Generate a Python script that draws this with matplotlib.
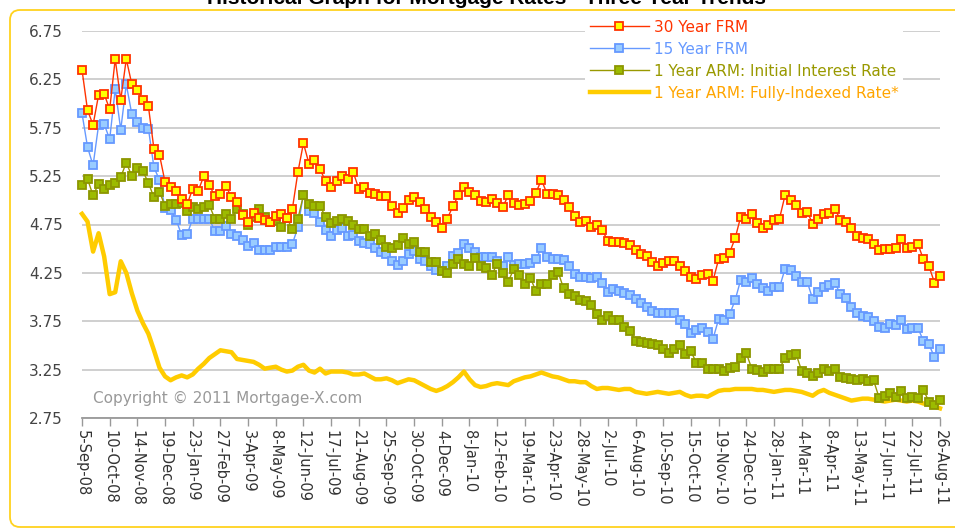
import matplotlib
matplotlib.use("Agg")
import matplotlib.pyplot as plt
import numpy as np
from matplotlib.patches import FancyBboxPatch

# weekly values, 5-Sep-08 .. 26-Aug-11 (156 weeks)
frm30 = [6.35, 5.93, 5.78, 6.09, 6.10, 5.94, 6.46, 6.04, 6.46, 6.20,
         6.14, 6.04, 5.97, 5.53, 5.47, 5.19, 5.14, 5.10, 5.01, 4.96,
         5.12, 5.10, 5.25, 5.16, 5.04, 5.07, 5.15, 5.03, 4.98, 4.85,
         4.78, 4.87, 4.82, 4.80, 4.78, 4.84, 4.86, 4.82, 4.91, 5.29,
         5.59, 5.38, 5.42, 5.32, 5.20, 5.14, 5.20, 5.25, 5.22, 5.29,
         5.12, 5.14, 5.08, 5.07, 5.04, 5.04, 4.94, 4.87, 4.92, 5.00,
         5.03, 4.98, 4.91, 4.83, 4.78, 4.71, 4.81, 4.94, 5.05, 5.14,
         5.09, 5.06, 4.99, 4.98, 5.01, 4.97, 4.93, 5.05, 4.97, 4.95,
         4.96, 4.99, 5.08, 5.21, 5.07, 5.07, 5.06, 5.00, 4.93, 4.84,
         4.78, 4.79, 4.72, 4.75, 4.69, 4.58, 4.57, 4.57, 4.56, 4.54,
         4.49, 4.44, 4.42, 4.36, 4.32, 4.35, 4.37, 4.37, 4.32, 4.27,
         4.21, 4.19, 4.23, 4.24, 4.17, 4.39, 4.40, 4.46, 4.61, 4.83,
         4.81, 4.86, 4.77, 4.71, 4.74, 4.80, 4.81, 5.05, 5.00, 4.95,
         4.87, 4.88, 4.76, 4.81, 4.86, 4.87, 4.91, 4.80, 4.78, 4.71,
         4.63, 4.61, 4.60, 4.55, 4.49, 4.50, 4.50, 4.51, 4.60, 4.51,
         4.52, 4.55, 4.39, 4.32, 4.15, 4.22]

frm15 = [5.90, 5.55, 5.36, 5.78, 5.79, 5.63, 6.15, 5.73, 6.20, 5.89,
         5.81, 5.75, 5.74, 5.34, 5.21, 4.92, 4.90, 4.80, 4.64, 4.65,
         4.81, 4.81, 4.81, 4.81, 4.68, 4.68, 4.73, 4.65, 4.63, 4.59,
         4.53, 4.56, 4.49, 4.49, 4.49, 4.52, 4.52, 4.52, 4.55, 4.72,
         5.06, 4.89, 4.87, 4.78, 4.69, 4.63, 4.69, 4.71, 4.63, 4.64,
         4.58, 4.56, 4.55, 4.51, 4.47, 4.44, 4.37, 4.33, 4.37, 4.45,
         4.48, 4.39, 4.37, 4.32, 4.28, 4.27, 4.32, 4.42, 4.46, 4.55,
         4.51, 4.47, 4.41, 4.41, 4.41, 4.37, 4.32, 4.41, 4.33, 4.34,
         4.34, 4.35, 4.39, 4.51, 4.41, 4.39, 4.39, 4.38, 4.32, 4.24,
         4.21, 4.21, 4.20, 4.21, 4.15, 4.05, 4.08, 4.06, 4.04, 4.02,
         3.98, 3.94, 3.90, 3.86, 3.84, 3.84, 3.84, 3.84, 3.76, 3.72,
         3.63, 3.66, 3.68, 3.64, 3.57, 3.77, 3.76, 3.82, 3.97, 4.18,
         4.16, 4.20, 4.14, 4.09, 4.06, 4.10, 4.10, 4.29, 4.28, 4.22,
         4.16, 4.16, 3.98, 4.05, 4.10, 4.12, 4.15, 4.03, 3.99, 3.90,
         3.84, 3.80, 3.79, 3.75, 3.69, 3.68, 3.72, 3.71, 3.76, 3.67,
         3.68, 3.68, 3.55, 3.51, 3.38, 3.46]

arm_init = [5.16, 5.22, 5.05, 5.17, 5.12, 5.16, 5.18, 5.24, 5.39, 5.25,
            5.33, 5.30, 5.18, 5.03, 5.09, 4.94, 4.96, 4.96, 4.97, 4.89,
            4.93, 4.91, 4.93, 4.95, 4.81, 4.81, 4.86, 4.81, 4.91, 4.86,
            4.75, 4.83, 4.91, 4.83, 4.78, 4.79, 4.72, 4.82, 4.70, 4.81,
            5.05, 4.96, 4.94, 4.94, 4.83, 4.77, 4.79, 4.81, 4.79, 4.74,
            4.70, 4.70, 4.63, 4.65, 4.59, 4.52, 4.51, 4.54, 4.61, 4.55,
            4.57, 4.47, 4.47, 4.36, 4.36, 4.27, 4.25, 4.34, 4.39, 4.34,
            4.32, 4.40, 4.32, 4.30, 4.23, 4.34, 4.25, 4.16, 4.29, 4.23,
            4.13, 4.20, 4.06, 4.14, 4.14, 4.23, 4.26, 4.09, 4.03, 4.01,
            3.97, 3.96, 3.92, 3.83, 3.76, 3.80, 3.76, 3.76, 3.69, 3.65,
            3.55, 3.54, 3.53, 3.52, 3.50, 3.46, 3.42, 3.46, 3.50, 3.41,
            3.44, 3.32, 3.32, 3.26, 3.26, 3.26, 3.24, 3.27, 3.28, 3.37,
            3.42, 3.26, 3.25, 3.23, 3.26, 3.26, 3.26, 3.37, 3.40, 3.41,
            3.24, 3.21, 3.18, 3.22, 3.26, 3.24, 3.26, 3.17, 3.16, 3.15,
            3.14, 3.15, 3.13, 3.14, 2.96, 2.98, 3.01, 2.97, 3.03, 2.96,
            2.97, 2.96, 3.04, 2.92, 2.88, 2.94]

arm_full = [4.86, 4.78, 4.47, 4.66, 4.42, 4.03, 4.05, 4.37, 4.25, 4.04,
            3.86, 3.73, 3.62, 3.45, 3.27, 3.18, 3.14, 3.17, 3.19, 3.17,
            3.20, 3.26, 3.31, 3.37, 3.41, 3.45, 3.44, 3.43, 3.36, 3.35,
            3.34, 3.33, 3.30, 3.26, 3.27, 3.28, 3.25, 3.23, 3.24, 3.28,
            3.30, 3.24, 3.22, 3.26, 3.21, 3.23, 3.23, 3.23, 3.22, 3.20,
            3.20, 3.21, 3.18, 3.15, 3.15, 3.16, 3.14, 3.11, 3.13, 3.15,
            3.14, 3.11, 3.08, 3.05, 3.03, 3.05, 3.08, 3.12, 3.17, 3.23,
            3.15, 3.09, 3.07, 3.08, 3.10, 3.11, 3.10, 3.09, 3.13, 3.15,
            3.17, 3.18, 3.20, 3.22, 3.20, 3.18, 3.17, 3.15, 3.13, 3.13,
            3.12, 3.12, 3.08, 3.05, 3.06, 3.06, 3.05, 3.04, 3.05, 3.05,
            3.02, 3.01, 3.00, 3.01, 3.02, 3.01, 3.00, 3.01, 3.02, 2.99,
            2.97, 2.98, 2.98, 2.97, 3.00, 3.03, 3.04, 3.04, 3.05, 3.05,
            3.05, 3.05, 3.04, 3.04, 3.03, 3.02, 3.03, 3.04, 3.04, 3.03,
            3.02, 3.00, 2.98, 3.02, 3.04, 3.01, 2.99, 2.97, 2.95, 2.93,
            2.94, 2.95, 2.95, 2.94, 2.93, 2.92, 2.93, 2.94, 2.93, 2.92,
            2.93, 2.92, 2.90, 2.89, 2.87, 2.85]

tick_labels = ["5-Sep-08", "10-Oct-08", "14-Nov-08", "19-Dec-08", "23-Jan-09",
               "27-Feb-09", "3-Apr-09", "8-May-09", "12-Jun-09", "17-Jul-09",
               "21-Aug-09", "25-Sep-09", "30-Oct-09", "4-Dec-09", "8-Jan-10",
               "12-Feb-10", "19-Mar-10", "23-Apr-10", "28-May-10", "2-Jul-10",
               "6-Aug-10", "10-Sep-10", "15-Oct-10", "19-Nov-10", "24-Dec-10",
               "28-Jan-11", "4-Mar-11", "8-Apr-11", "13-May-11", "17-Jun-11",
               "22-Jul-11", "26-Aug-11"]

x = np.arange(len(frm30))

W, H = 955, 529
fig = plt.figure(figsize=(W / 100, H / 100), dpi=100)
ax = fig.add_axes([82 / W, 1 - 418 / H, (940 - 82) / W, (418 - 31) / H])

# gold rounded frame
frame = FancyBboxPatch((0.10, 0.02), 9.60, 5.17,
                       boxstyle="round,pad=0,rounding_size=0.10",
                       transform=fig.dpi_scale_trans, fc="none",
                       ec="#FFD21F", lw=1.3)
fig.patches.append(frame)

l4, = ax.plot(x, arm_full, color="#FFCC00", lw=3.2, zorder=2,
              solid_joinstyle="round", clip_on=False,
              label="1 Year ARM: Fully-Indexed Rate*")
l2, = ax.plot(x, frm15, color="#6699FF", lw=1, marker="s", ms=5.2, mew=1.3,
              mfc="#99CCFF", mec="#6699FF", zorder=3, clip_on=False,
              label="15 Year FRM")
l3, = ax.plot(x, arm_init, color="#999900", lw=1, marker="s", ms=5.2, mew=1.3,
              mfc="#9CBB00", mec="#8C9600", zorder=4, clip_on=False,
              label="1 Year ARM: Initial Interest Rate")
l1, = ax.plot(x, frm30, color="#FF3300", lw=1, marker="s", ms=5.2, mew=1.3,
              mfc="#FFFF00", mec="#FF3300", zorder=5, clip_on=False,
              label="30 Year FRM")

ax.set_xlim(0, len(x) - 1)
ax.set_ylim(2.75, 6.75)
ax.set_yticks(np.arange(2.75, 6.76, 0.5))
ax.set_yticklabels(["%.2f" % v for v in np.arange(2.75, 6.76, 0.5)])
ax.set_xticks(np.arange(0, len(x), 5))
ax.set_xticklabels(tick_labels)
plt.setp(ax.get_xticklabels(), rotation=270, ha="center", va="top")

ax.yaxis.grid(True, color="#CCCCCC", lw=1.3)
ax.set_axisbelow(True)
for s in ["left", "right", "top"]:
    ax.spines[s].set_visible(False)
ax.spines["bottom"].set_color("#999999")
ax.spines["bottom"].set_linewidth(1.3)
ax.tick_params(axis="x", length=6, width=1, color="#999999", pad=3,
               labelsize=10.5, labelcolor="#333333")
ax.tick_params(axis="y", length=0, pad=14, labelsize=11, labelcolor="#444444")

ax.text(2.0, 2.95, "Copyright \u00a9 2011 Mortgage-X.com", color="#999999",
        fontsize=11, ha="left", va="center", zorder=6)

leg = ax.legend(handles=[l1, l2, l3, l4], loc="upper left",
                bbox_to_anchor=(585 / W, 1 - 15 / H),
                bbox_transform=fig.transFigure, fontsize=11, numpoints=1,
                handlelength=3.9, handletextpad=0.3, labelspacing=0.46,
                borderpad=0.3, borderaxespad=0, frameon=True, fancybox=False,
                facecolor="white", edgecolor="none", framealpha=1)
leg.set_zorder(10)
for t, c in zip(leg.get_texts(), ["#FF3300", "#6699FF", "#999900", "#FFA500"]):
    t.set_color(c)

fig.text(0.509, 1 - 3.5 / H, "Historical Graph for Mortgage Rates - Three Year Trends",
         ha="center", va="baseline", fontsize=15, fontweight="bold",
         family="Liberation Sans")

fig.savefig("out.png", dpi=100)
